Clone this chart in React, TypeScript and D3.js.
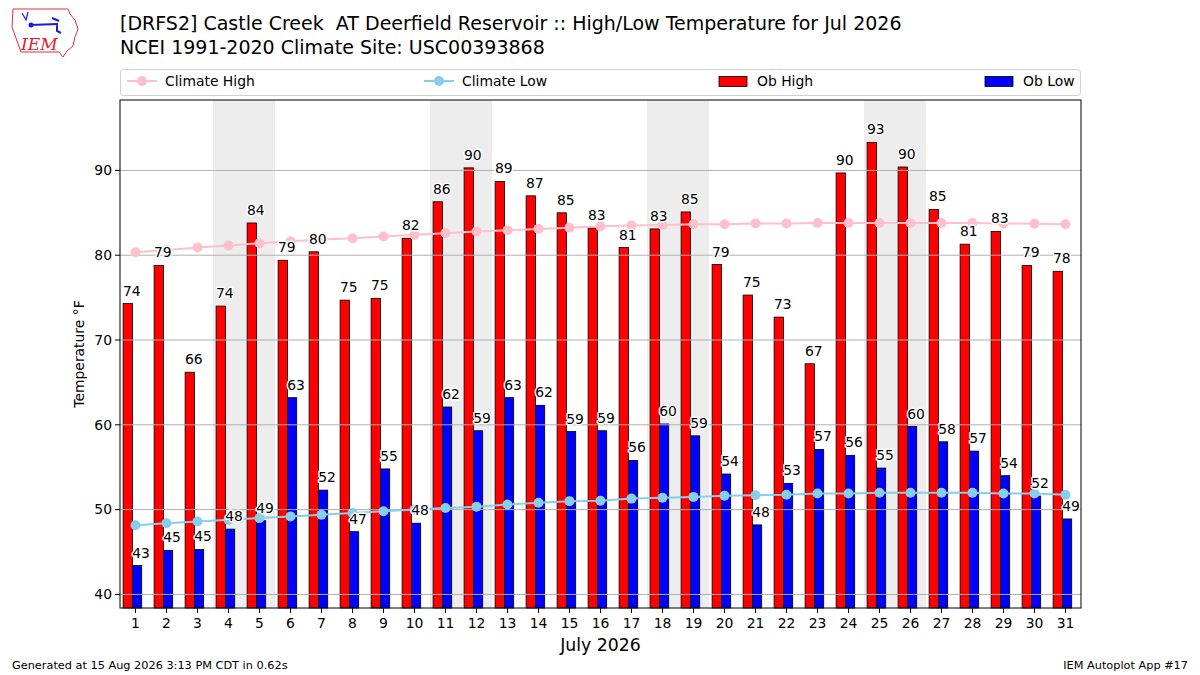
import React from 'react';
import * as d3 from 'd3';

// days of July 2026
const days = d3.range(1, 32);
const weekends = [4, 5, 11, 12, 18, 19, 25, 26];

const obHigh = [74.3, 78.8, 66.2, 74.0, 83.8, 79.4, 80.4, 74.7, 74.9, 82.0, 86.3, 90.3, 88.7, 87.0, 85.0, 83.2,
    80.9, 83.1, 85.1, 78.9, 75.3, 72.7, 67.2, 89.7, 93.3, 90.4, 85.4, 81.3, 82.8, 78.8, 78.1];
const obLow = [43.4, 45.2, 45.3, 47.7, 48.7, 63.2, 52.3, 47.4, 54.8, 48.4, 62.1, 59.3, 63.2, 62.3, 59.2, 59.3,
    55.8, 60.1, 58.7, 54.2, 48.2, 53.1, 57.1, 56.4, 54.9, 59.8, 58.0, 56.9, 54.0, 51.6, 48.9];
const climateHigh = [80.35, 80.6, 80.9, 81.15, 81.4, 81.65, 81.85, 82.0, 82.2, 82.4, 82.6, 82.8, 82.95, 83.1, 83.25, 83.4,
    83.5, 83.55, 83.65, 83.65, 83.75, 83.75, 83.8, 83.8, 83.8, 83.8, 83.8, 83.8, 83.75, 83.7, 83.65];
const climateLow = [48.15, 48.4, 48.6, 48.8, 49.0, 49.2, 49.4, 49.6, 49.8, 50.0, 50.2, 50.35, 50.6, 50.8, 51.0, 51.05,
    51.3, 51.4, 51.5, 51.65, 51.7, 51.75, 51.9, 51.9, 52.0, 52.0, 52.0, 52.0, 51.9, 51.9, 51.75];
const yTicks = [40, 50, 60, 70, 80, 90];

const FONT = 'DejaVu Sans, sans-serif';
const FS = 13.9;

export default function App() {
    const margin = { left: 120, right: 1081, top: 100, bottom: 608 };

    const x = d3.scaleLinear().domain([0.5, 31.5]).range([margin.left, margin.right]);
    const y = d3.scaleLinear()
        .domain([(d3.min(obLow) as number) - 5, (d3.max(obHigh) as number) + 5])
        .range([margin.bottom, margin.top]);

    const line = d3.line<number>()
        .x((_, i) => x(days[i]))
        .y(d => y(d));

    const labelText = (v: number, lx: number, ly: number, key: string) => (
        <g key={key}>
            <text x={lx} y={ly} textAnchor="middle" fontSize={FS} fontFamily={FONT}
                stroke="white" strokeWidth={3} strokeLinejoin="round" fill="white">{Math.round(v)}</text>
            <text x={lx} y={ly} textAnchor="middle" fontSize={FS} fontFamily={FONT} fill="black">{Math.round(v)}</text>
        </g>
    );

    const legendItems = [
        { kind: 'line', color: 'pink', label: 'Climate High', x0: 127 },
        { kind: 'line', color: 'skyblue', label: 'Climate Low', x0: 424 },
        { kind: 'rect', color: 'red', label: 'Ob High', x0: 719 },
        { kind: 'rect', color: 'blue', label: 'Ob Low', x0: 985 },
    ];

    return (
        <div style={{ position: 'absolute', left: 0, top: 0, width: 1200, height: 675, background: 'white' }}>
            <svg width={1200} height={675} style={{ display: 'block' }}>
                <rect width={1200} height={675} fill="white" />

                {/* IEM logo */}
                <g>
                    <path d="M13,9 L68,9 L70,14 L75,20 L78,29 L75,37 L73,46 L67,51 L63,57 L59,52 L21,52 L17,41 L12,27 Z"
                        fill="none" stroke="#e03040" strokeWidth={1} />
                    <path d="M30,25 L58,24 M52,18 L59,21 M57,24 L57,31 L61,33" stroke="#1a1adc" strokeWidth={2} fill="none" />
                    <circle cx={31} cy={25} r={2.5} fill="#1a1adc" />
                    <path d="M22,13 L26,20 L28,12" stroke="#1a1adc" strokeWidth={1.2} fill="none" />
                    <text x={21} y={50} fontFamily="DejaVu Serif, serif" fontStyle="italic" fontSize={17} fill="#e02030">IEM</text>
                </g>

                {/* titles */}
                <text x={120} y={30} fontSize={19} fontFamily={FONT} fill="black" style={{ whiteSpace: 'pre' }}>
                    [DRFS2] Castle Creek  AT Deerfield Reservoir :: High/Low Temperature for Jul 2026
                </text>
                <text x={120} y={54} fontSize={19} fontFamily={FONT} fill="black">NCEI 1991-2020 Climate Site: USC00393868</text>

                {/* legend */}
                <rect x={120.5} y={69.5} width={960} height={26} rx={3} fill="white" stroke="#d0d0d0" />
                {legendItems.map(it => (
                    <g key={it.label}>
                        {it.kind === 'line' ? (
                            <g>
                                <line x1={it.x0} x2={it.x0 + 30} y1={81} y2={81} stroke={it.color} strokeWidth={2} />
                                <circle cx={it.x0 + 15} cy={81} r={5} fill={it.color} />
                            </g>
                        ) : (
                            <rect x={it.x0} y={76.5} width={28} height={10} fill={it.color} stroke="black" strokeWidth={0.8} />
                        )}
                        <text x={it.x0 + 38} y={86} fontSize={FS} fontFamily={FONT} fill="black">{it.label}</text>
                    </g>
                ))}

                {/* weekend shading */}
                {weekends.map(d => (
                    <rect key={'w' + d} x={x(d - 0.5)} y={margin.top} width={x(d + 0.5) - x(d - 0.5)}
                        height={margin.bottom - margin.top} fill="#ededed" />
                ))}

                {/* bars */}
                {days.map((d, i) => (
                    <g key={'b' + d}>
                        <rect x={x(d - 0.4)} y={y(obHigh[i])} width={x(d - 0.1) - x(d - 0.4)}
                            height={margin.bottom - y(obHigh[i])} fill="red" stroke="black" strokeWidth={0.8} />
                        <rect x={x(d - 0.1)} y={y(obLow[i])} width={x(d + 0.2) - x(d - 0.1)}
                            height={margin.bottom - y(obLow[i])} fill="blue" stroke="black" strokeWidth={0.8} />
                    </g>
                ))}

                {/* grid */}
                {yTicks.map(t => (
                    <line key={'g' + t} x1={margin.left} x2={margin.right} y1={y(t)} y2={y(t)} stroke="#b0b0b0" strokeWidth={1} />
                ))}

                {/* climate lines */}
                <path d={line(climateHigh) || ''} fill="none" stroke="pink" strokeWidth={2} />
                {climateHigh.map((v, i) => (
                    <circle key={'ch' + i} cx={x(days[i])} cy={y(v)} r={5} fill="pink" />
                ))}
                <path d={line(climateLow) || ''} fill="none" stroke="skyblue" strokeWidth={2} />
                {climateLow.map((v, i) => (
                    <circle key={'cl' + i} cx={x(days[i])} cy={y(v)} r={5} fill="skyblue" />
                ))}

                {/* value labels */}
                {days.map((d, i) => labelText(obHigh[i], x(d - 0.12), y(obHigh[i]) - 8, 'lh' + d))}
                {days.map((d, i) => labelText(obLow[i], x(d + 0.18), y(obLow[i]) - 8, 'll' + d))}

                {/* frame */}
                <rect x={margin.left} y={margin.top} width={margin.right - margin.left} height={margin.bottom - margin.top}
                    fill="none" stroke="black" strokeWidth={1} />

                {/* y axis */}
                {yTicks.map(t => (
                    <g key={'yt' + t}>
                        <line x1={margin.left - 5} x2={margin.left} y1={y(t)} y2={y(t)} stroke="black" />
                        <text x={margin.left - 8} y={y(t)} dy="0.35em" textAnchor="end" fontSize={FS} fontFamily={FONT}>{t}</text>
                    </g>
                ))}
                <text transform={`translate(84,${(margin.top + margin.bottom) / 2}) rotate(-90)`} textAnchor="middle"
                    fontSize={FS} fontFamily={FONT}>Temperature °F</text>

                {/* x axis */}
                {days.map(d => (
                    <g key={'xt' + d}>
                        <line x1={x(d)} x2={x(d)} y1={margin.bottom} y2={margin.bottom + 5} stroke="black" />
                        <text x={x(d)} y={margin.bottom + 20} textAnchor="middle" fontSize={FS} fontFamily={FONT}>{d}</text>
                    </g>
                ))}
                <text x={(margin.left + margin.right) / 2} y={651} textAnchor="middle" fontSize={17.3} fontFamily={FONT}>July 2026</text>

                {/* footer */}
                <text x={12} y={669} fontSize={11.3} fontFamily={FONT}>Generated at 15 Aug 2026 3:13 PM CDT in 0.62s</text>
                <text x={1188} y={669} textAnchor="end" fontSize={11.3} fontFamily={FONT}>IEM Autoplot App #17</text>
            </svg>
        </div>
    );
}
